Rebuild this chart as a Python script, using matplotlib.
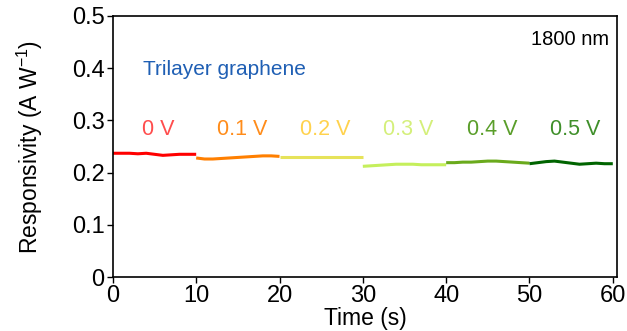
import numpy as np
import matplotlib
matplotlib.use("Agg")
import matplotlib.pyplot as plt

plt.rcParams["font.family"] = ["Liberation Sans", "DejaVu Sans"]
plt.rcParams["mathtext.fontset"] = "custom"
plt.rcParams["mathtext.rm"] = "Liberation Sans"
plt.rcParams["mathtext.default"] = "regular"

# time grid within each 10 s bias segment
t_seg = [0, 1, 2, 3, 4, 5, 6, 7, 8, 9, 10]
biases = ["0 V", "0.1 V", "0.2 V", "0.3 V", "0.4 V", "0.5 V"]
resp_0v = [0.237, 0.237, 0.237, 0.236, 0.237, 0.235, 0.233, 0.234, 0.235, 0.235, 0.235]
resp_01v = [0.228, 0.226, 0.226, 0.227, 0.228, 0.229, 0.230, 0.231, 0.232, 0.232, 0.231]
resp_02v = [0.229, 0.229, 0.229, 0.229, 0.229, 0.229, 0.229, 0.229, 0.229, 0.229, 0.229]
resp_03v = [0.212, 0.213, 0.214, 0.215, 0.216, 0.216, 0.216, 0.215, 0.215, 0.215, 0.215]
resp_04v = [0.219, 0.219, 0.220, 0.220, 0.221, 0.222, 0.222, 0.221, 0.220, 0.219, 0.218]
resp_05v = [0.217, 0.219, 0.221, 0.222, 0.220, 0.218, 0.216, 0.217, 0.218, 0.217, 0.217]
series = [resp_0v, resp_01v, resp_02v, resp_03v, resp_04v, resp_05v]

line_colors = ["#ff0000", "#ff7f00", "#e6e35a", "#c5ef5c", "#6aaa1c", "#006400"]
label_colors = ["#ff4d4d", "#ff8c1a", "#ffd24d", "#d4ef7a", "#5a9e2a", "#3f8f2a"]

fig = plt.figure(figsize=(6.27, 3.31), dpi=100)
ax = fig.add_axes([0.180, 0.163, 0.804, 0.789])

for i, vals in enumerate(series):
    t = np.array(t_seg) + 10 * i
    ax.plot(t, vals, color=line_colors[i], lw=2.2, solid_capstyle="butt")
    ax.text(10 * i + 5.5, 0.282, biases[i], color=label_colors[i],
            fontsize=15.5, ha="center", va="center")

ax.text(3.6, 0.397, "Trilayer graphene", color="#1f5fb4", fontsize=15,
        ha="left", va="center")
ax.text(59.5, 0.454, "1800 nm", color="black", fontsize=14.5,
        ha="right", va="center")

ax.set_xlim(0, 60.5)
ax.set_ylim(0, 0.5)
ax.set_xticks([0, 10, 20, 30, 40, 50, 60])
ax.set_yticks([0, 0.1, 0.2, 0.3, 0.4, 0.5])
ax.set_yticklabels(["0", "0.1", "0.2", "0.3", "0.4", "0.5"])
ax.tick_params(labelsize=17, length=4, width=1, pad=2)
for s in ax.spines.values():
    s.set_linewidth(1.2)
ax.set_xlabel("Time (s)", fontsize=16.5, labelpad=0)
ax.set_ylabel("Responsivity (A W$^{-1}$)", fontsize=16.5, labelpad=19)

fig.savefig("out.png", dpi=100)
